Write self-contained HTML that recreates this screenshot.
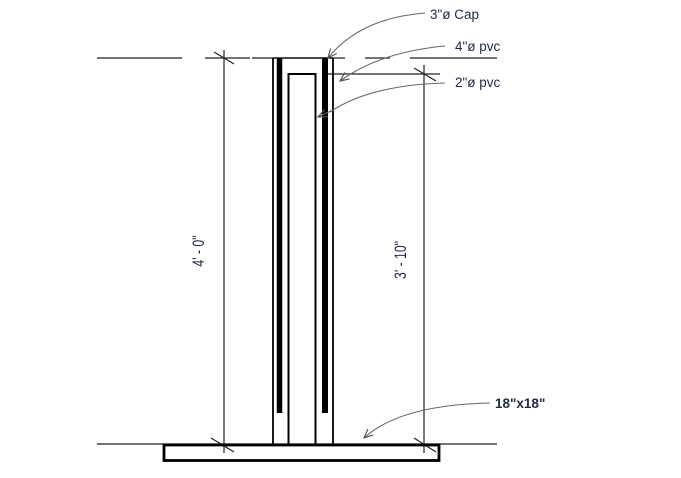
<!DOCTYPE html>
<html><head><style>body{margin:0;background:#fff}svg{display:block}</style></head><body>
<svg width="681" height="478" viewBox="0 0 681 478" xmlns="http://www.w3.org/2000/svg" font-family="Liberation Sans, sans-serif">
<defs><marker id="a" markerWidth="10" markerHeight="10" refX="9" refY="5" orient="auto" markerUnits="userSpaceOnUse"><path d="M0,1 L9,5 L0,9" fill="none" stroke="#555" stroke-width="1.2"/></marker></defs>
<g stroke="#222" stroke-width="1.2">
<line x1="97" y1="58" x2="182" y2="58"/><line x1="205" y1="58" x2="250" y2="58"/><line x1="252" y1="58" x2="345" y2="58"/><line x1="365" y1="58" x2="390" y2="58"/><line x1="410" y1="58" x2="497" y2="58"/>
<line x1="327" y1="74" x2="440" y2="74"/>
<line x1="97" y1="444" x2="497" y2="444"/>
<line x1="224" y1="50" x2="224" y2="453"/>
<line x1="424" y1="65" x2="424" y2="453"/>
<line x1="214" y1="52" x2="234" y2="64"/><line x1="414" y1="68" x2="436" y2="81"/>
<line x1="211" y1="438" x2="234" y2="452"/><line x1="414" y1="438" x2="436" y2="452"/>
</g>
<g stroke="#000" fill="none">
<line x1="273" y1="58" x2="273" y2="444" stroke-width="1.8"/>
<line x1="333" y1="58" x2="333" y2="444" stroke-width="1.8"/>
<line x1="273" y1="58" x2="333" y2="58" stroke-width="1.2"/>
<line x1="279.5" y1="58" x2="279.5" y2="413" stroke-width="5.5"/>
<line x1="325" y1="58" x2="325" y2="413" stroke-width="6"/>
<path d="M288.5 444 V74 H315.5 V444" stroke-width="2"/>
<rect x="164" y="445" width="275" height="15.5" stroke-width="2.8"/>
</g>
<g stroke="#666" stroke-width="1.1" fill="none">
<path d="M425 13 Q360 18 328 58" marker-end="url(#a)"/>
<path d="M445 46 Q380 52 340 81" marker-end="url(#a)"/>
<path d="M445 83 Q370 85 330 112" />
<path d="M333 110 L318 117" marker-end="url(#a)"/>
<path d="M490 403 Q400 405 364 438" marker-end="url(#a)"/>
</g>
<g fill="#1f2a44" font-size="13.5">
<text x="430" y="19">3"ø Cap</text>
<text x="455" y="51">4"ø pvc</text>
<text x="455" y="87">2"ø pvc</text>
<text x="495" y="408" font-weight="bold">18"x18"</text>
</g>
<g fill="#1f2a44" font-size="17">
<text transform="translate(204,251) rotate(-90) scale(0.72,1)" text-anchor="middle">4' - 0"</text>
<text transform="translate(406,260) rotate(-90) scale(0.72,1)" text-anchor="middle">3' - 10"</text>
</g>
</svg>
</body></html>
